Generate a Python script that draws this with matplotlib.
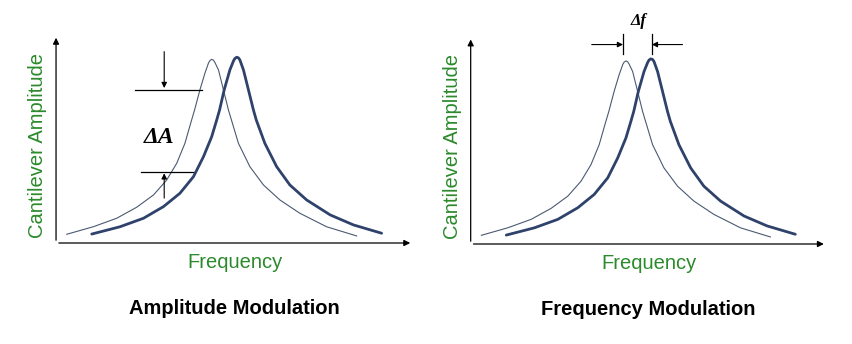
import numpy as np
import matplotlib.pyplot as plt

plt.rcParams['font.family'] = ['Liberation Sans', 'DejaVu Sans']

# resonance curves (frequency, amplitude in arbitrary units 0-100)
free_freq = [3.0, 10.4, 17.0, 22.6, 27.3, 31.0, 33.8, 36.1, 37.7, 38.8, 40.3, 41.7,
             42.7, 43.1, 43.6, 44.1, 44.5, 45.5, 46.9, 48.3, 51.1, 54.3, 58.1,
             62.7, 68.3, 75.8, 84.2]
free_amp = [4.2, 7.8, 11.9, 17.2, 23.1, 30.3, 38.3, 47.9, 57.5, 63.9, 73.6, 81.6,
            86.5, 87.7, 88.3, 87.9, 86.8, 83.2, 73.6, 63.9, 47.9, 36.7, 27.9,
            20.7, 14.3, 7.8, 3.4]

shift_freq = [10.0, 17.9, 24.5, 30.1, 34.7, 38.5, 41.3, 43.6, 45.0, 45.8, 47.1, 48.7,
              49.7, 50.1, 50.6, 51.1, 51.5, 52.5, 53.9, 55.3, 56.1, 58.5, 61.8, 65.5,
              70.2, 76.8, 83.3, 91.2]
shift_amp = [4.3, 7.8, 11.9, 17.5, 23.9, 31.9, 41.5, 51.1, 59.1, 63.9, 73.6, 83.2,
             87.5, 88.7, 89.3, 89.0, 88.0, 83.2, 73.6, 63.9, 59.1, 47.9, 36.7, 27.9,
             20.7, 13.5, 8.7, 4.7]

titles = ['Amplitude Modulation', 'Frequency Modulation']
xlabel = 'Frequency'
ylabel = 'Cantilever Amplitude'

green = '#2b8a2b'
thin_col = '#4a5a72'
thick_col = '#2e426b'

fig = plt.figure(figsize=(8.53, 3.44), dpi=100)
ax1 = fig.add_axes([0.0657, 0.2936, 0.4185, 0.6047])
ax2 = fig.add_axes([0.5518, 0.2907, 0.4173, 0.6027])

for ax, title in zip([ax1, ax2], titles):
    ax.set_xlim(0, 100)
    ax.set_ylim(0, 100)
    ax.axis('off')
    ax.plot(free_freq, free_amp, color=thin_col, lw=0.8, clip_on=False,
            solid_joinstyle='round')
    ax.plot(shift_freq, shift_amp, color=thick_col, lw=2.0, clip_on=False,
            solid_joinstyle='round', solid_capstyle='round')
    # axes with arrow heads
    ax.annotate('', xy=(1.0, 0), xytext=(0, 0), xycoords='axes fraction',
                arrowprops=dict(arrowstyle='-|>', lw=0.9, color='black', mutation_scale=9),
                annotation_clip=False)
    ax.annotate('', xy=(0, 1.0), xytext=(0, 0), xycoords='axes fraction',
                arrowprops=dict(arrowstyle='-|>', lw=0.9, color='black', mutation_scale=9),
                annotation_clip=False)
    ax.text(-0.052, 0.47, ylabel, transform=ax.transAxes, rotation=90,
            ha='center', va='center', color=green, fontsize=14.5)
    ax.text(0.5, -0.095, xlabel, transform=ax.transAxes,
            ha='center', va='center', color=green, fontsize=14.5)
    ax.text(0.5, -0.315, title, transform=ax.transAxes,
            ha='center', va='center', color='black', fontsize=14.5, fontweight='bold')

# amplitude modulation: delta A markers
arrow = dict(arrowstyle='-|>', lw=0.8, color='black', mutation_scale=8, shrinkA=0, shrinkB=0)
ax1.plot([22.1, 40.8], [73.6, 73.6], color='black', lw=0.9)
ax1.plot([23.7, 38.5], [34.3, 34.3], color='black', lw=0.9)
ax1.annotate('', xy=(30.3, 74.5), xytext=(30.3, 92), arrowprops=arrow)
ax1.annotate('', xy=(30.3, 33.5), xytext=(30.3, 21.6), arrowprops=arrow)
ax1.text(28.9, 50.5, 'ΔA', ha='center', va='center', fontsize=17,
         family=['Liberation Serif', 'DejaVu Serif'], fontweight='bold', style='italic')

# frequency modulation: delta f markers
f0 = free_freq[int(np.argmax(free_amp))]
f1 = shift_freq[int(np.argmax(shift_amp))]
ax2.plot([f0 - 0.8] * 2, [91.5, 101.5], color='black', lw=0.9, clip_on=False)
ax2.plot([f1 + 0.3] * 2, [91.5, 101.5], color='black', lw=0.9, clip_on=False)
ax2.annotate('', xy=(f0 - 0.8, 96.2), xytext=(f0 - 9.6, 96.2), arrowprops=arrow, annotation_clip=False)
ax2.annotate('', xy=(f1 + 0.3, 96.2), xytext=(f1 + 8.9, 96.2), arrowprops=arrow, annotation_clip=False)
ax2.text((f0 + f1) / 2, 107.5, 'Δf', ha='center', va='center', fontsize=12,
         family=['Liberation Serif', 'DejaVu Serif'], fontweight='bold', style='italic')

plt.savefig('out.png', dpi=100, facecolor='white')
